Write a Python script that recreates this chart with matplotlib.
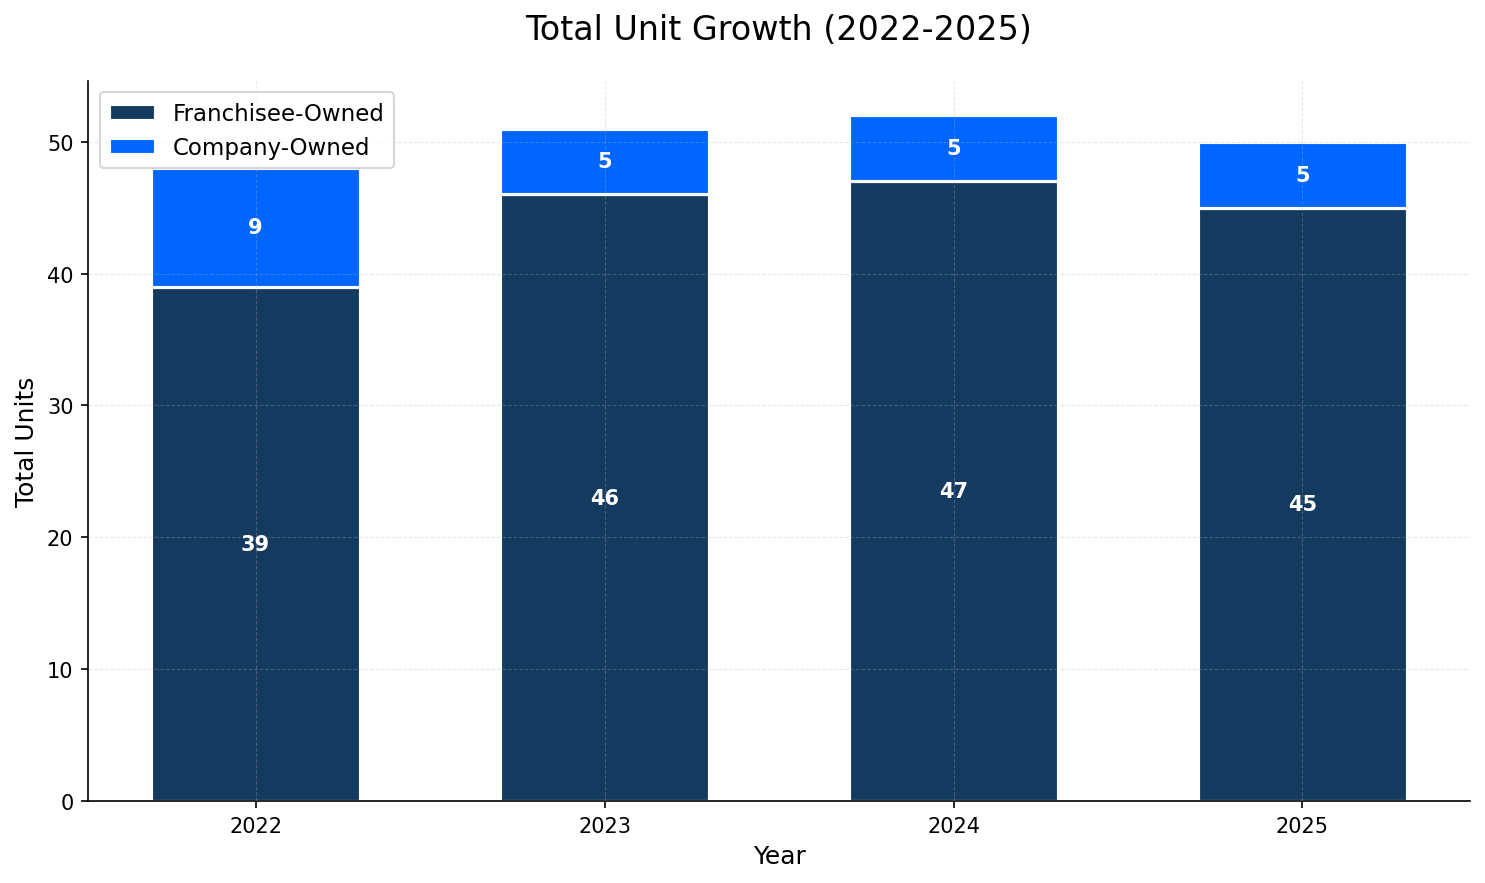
import numpy as np
import matplotlib
matplotlib.use('Agg')
import matplotlib.pyplot as plt

years = ['2022', '2023', '2024', '2025']
franchisee = [39, 46, 47, 45]
company = [9, 5, 5, 5]

fig, ax = plt.subplots(figsize=(9.9, 5.8933), dpi=150)
x = np.arange(len(years))

ax.bar(x, franchisee, width=0.6, color='#153A60', edgecolor='white', linewidth=1.5, label='Franchisee-Owned')
ax.bar(x, company, width=0.6, bottom=franchisee, color='#0066FF', edgecolor='white', linewidth=1.5, label='Company-Owned')

# value labels in the middle of each segment
for i in range(len(years)):
    ax.text(x[i], franchisee[i] / 2, str(franchisee[i]), ha='center', va='center',
            color='white', fontsize=10, fontweight='bold')
    ax.text(x[i], franchisee[i] + company[i] / 2, str(company[i]), ha='center', va='center',
            color='white', fontsize=10, fontweight='bold')

ax.set_xticks(x)
ax.set_xticklabels(years, fontsize=10)
ax.tick_params(axis='y', labelsize=10)
ax.set_xlabel('Year', fontsize=12)
ax.set_ylabel('Total Units', fontsize=12)
ax.set_title('Total Unit Growth (2022-2025)', fontsize=16, pad=20)
ax.grid(True, linestyle='--', alpha=0.3, linewidth=0.5)
ax.set_axisbelow(False)
ax.spines['top'].set_visible(False)
ax.spines['right'].set_visible(False)
ax.legend(loc='upper left', fontsize=11)

fig.subplots_adjust(left=0.0593, right=0.9899, bottom=0.0928, top=0.9072)
plt.savefig('out.png', dpi=150)
